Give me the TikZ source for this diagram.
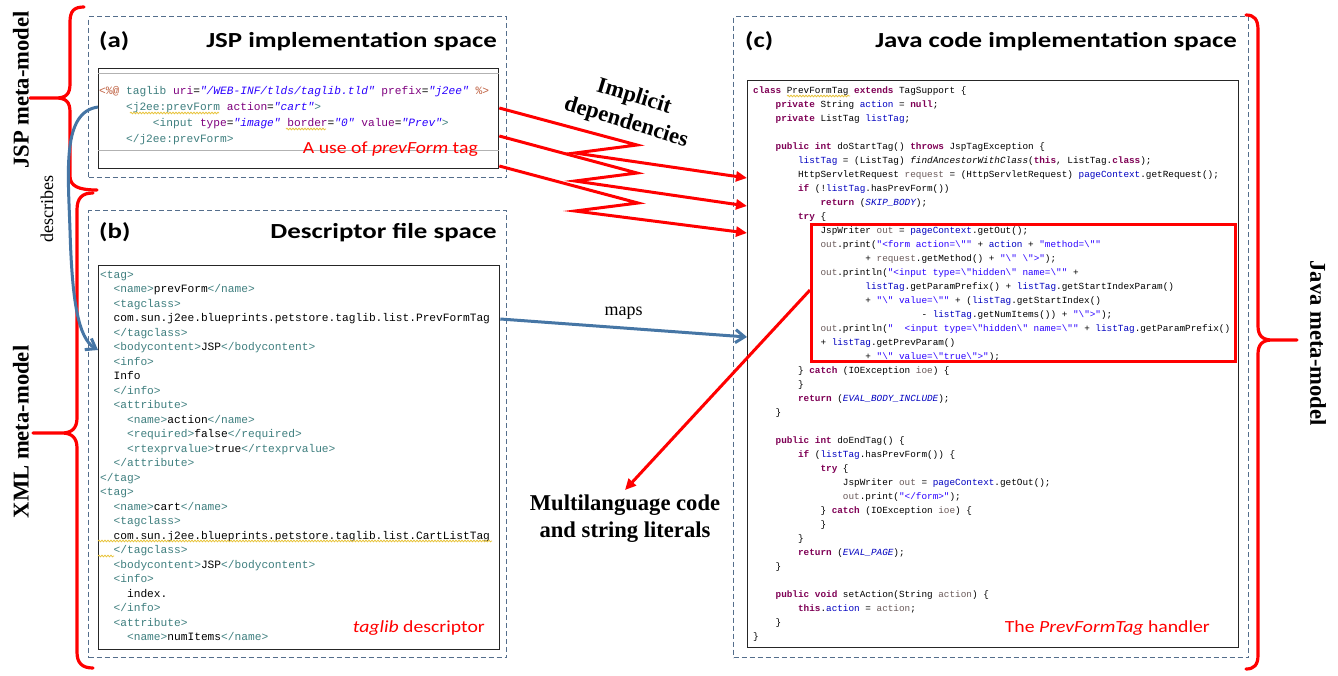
\documentclass[tikz,border=0pt]{standalone}
\usepackage{fontspec}
\setmainfont{Liberation Serif}
\setmonofont{Liberation Mono}
\newfontfamily\headfont{Carlito}[FakeStretch=1.25]
\newfontfamily\notefont{Carlito}[FakeStretch=1.16]
\usetikzlibrary{arrows.meta, positioning, decorations.pathmorphing}

\definecolor{spaceblue}{RGB}{84,110,140}
\definecolor{linkblue}{RGB}{70,118,165}
\definecolor{kwcol}{RGB}{127,0,85}
\definecolor{fieldcol}{RGB}{0,0,192}
\definecolor{strcol}{RGB}{42,0,255}
\definecolor{localcol}{RGB}{106,90,90}
\definecolor{tagcol}{RGB}{63,127,127}
\definecolor{attcol}{RGB}{127,0,127}
\definecolor{jspcol}{RGB}{191,95,63}
\definecolor{squigcol}{RGB}{232,196,60}

% code highlighting helpers
\newcommand\ind[1]{\hspace*{#1\fontcharwd\font`m}}
\newcommand\kw[1]{\textcolor{kwcol}{\bfseries #1}}
\newcommand\fd[1]{\textcolor{fieldcol}{#1}}
\newcommand\lv[1]{\textcolor{localcol}{#1}}
\newcommand\jstr[1]{\textcolor{strcol}{#1}}
\newcommand\cst[1]{\textcolor{fieldcol}{\itshape #1}}
\newcommand\xt[1]{\textcolor{tagcol}{#1}}
\newcommand\xa[1]{\textcolor{attcol}{#1}}
\newcommand\xv[1]{\textcolor{strcol}{\itshape #1}}
\newcommand\jd[1]{\textcolor{jspcol}{#1}}
\newcommand\bsl{\textbackslash}

\begin{document}
\begin{tikzpicture}[x=1pt, y=-1pt,
    spacebox/.style={draw=spaceblue, line width=1.1pt, dash pattern=on 5pt off 3pt, anchor=north west, inner sep=0},
    codebox/.style={draw=black!85, line width=1.3pt, anchor=north west, inner sep=0},
    srccode/.style={anchor=base west, inner sep=0, align=left},
    heading/.style={font=\headfont\bfseries\fontsize{21.5}{25}\selectfont, inner sep=0},
    note/.style={text=red, font=\notefont\fontsize{17}{20}\selectfont, inner sep=0, anchor=base east},
    modellabel/.style={font=\bfseries\fontsize{22.6}{27}\selectfont, inner sep=0},
    linklabel/.style={font=\fontsize{18}{21}\selectfont, inner sep=0},
    metabrace/.style={draw=red, line width=3.2pt, line cap=round, line join=round},
    dep/.style={draw=red, line width=3pt, -{Triangle[length=11pt, width=10pt]}},
    maplink/.style={draw=linkblue, line width=3pt, -{Straight Barb[length=9pt, width=13pt]}},
    squig/.style={draw=squigcol, line width=0.8pt, decorate, decoration={snake, amplitude=0.8pt, segment length=3pt}}
]
\useasboundingbox[fill=white] (0,0) rectangle (1338,675);

% ==== Spaces ====
\node[spacebox, minimum width=418pt, minimum height=161pt] (spacea) at (88,16) {};
\node[spacebox, minimum width=418pt, minimum height=447pt] (spaceb) at (88,210) {};
\node[spacebox, minimum width=515pt, minimum height=641pt] (spacec) at (733,16) {};

\node[heading, anchor=base west] (taga) at (99,47) {(a)};
\node[heading, anchor=base east] (titlea) at (497,47) {JSP implementation space};
\node[heading, anchor=base west] (tagb) at (99,238) {(b)};
\node[heading, anchor=base east] (titleb) at (497,238) {Descriptor file space};
\node[heading, anchor=base west] (tagc) at (745,47) {(c)};
\node[heading, anchor=base east] (titlec) at (1237,47) {Java code implementation space};

% ==== Code boxes ====
\node[codebox, minimum width=400pt, minimum height=100pt] (jspbox) at (98,68) {};
\node[codebox, minimum width=401pt, minimum height=384pt] (xmlbox) at (98,265) {};
\node[codebox, minimum width=491pt, minimum height=567pt] (javabox) at (747,80) {};

\draw[black!30, line width=0.8pt] ([yshift=-5pt]jspbox.north west) -- ([yshift=-5pt]jspbox.north east);
\draw[black!30, line width=0.8pt] ([yshift=-82pt]jspbox.north west) -- ([yshift=-82pt]jspbox.north east);

% JSP page (placed by its last baseline)
\node[srccode, font=\ttfamily\fontsize{11.2}{16}\selectfont] (jspsrc) at (99,142) {\jd{<\%@} \xt{taglib} \xa{uri}=\xv{"/WEB-INF/tlds/taglib.tld"} \xa{prefix}=\xv{"j2ee"} \jd{\%>}\\
\ind{4}\xt{<j2ee:prevForm} \xa{action}=\xv{"cart"}\xt{>}\\
\ind{8}\xt{<input} \xa{type}=\xv{"image"} \xa{border}=\xv{"0"} \xa{value}=\xv{"Prev"}\xt{>}\\
\ind{4}\xt{</j2ee:prevForm>}};

% tag library descriptor
\node[srccode, font=\ttfamily\fontsize{11.2}{14.5}\selectfont] (xmlsrc) at (100,640.5) {\xt{<tag>}\\
\ind{2}\xt{<name>}prevForm\xt{</name>}\\
\ind{2}\xt{<tagclass>}\\
\ind{2}com.sun.j2ee.blueprints.petstore.taglib.list.PrevFormTag\\
\ind{2}\xt{</tagclass>}\\
\ind{2}\xt{<bodycontent>}JSP\xt{</bodycontent>}\\
\ind{2}\xt{<info>}\\
\ind{2}Info\\
\ind{2}\xt{</info>}\\
\ind{2}\xt{<attribute>}\\
\ind{4}\xt{<name>}action\xt{</name>}\\
\ind{4}\xt{<required>}false\xt{</required>}\\
\ind{4}\xt{<rtexprvalue>}true\xt{</rtexprvalue>}\\
\ind{2}\xt{</attribute>}\\
\xt{</tag>}\\
\xt{<tag>}\\
\ind{2}\xt{<name>}cart\xt{</name>}\\
\ind{2}\xt{<tagclass>}\\
\ind{2}com.sun.j2ee.blueprints.petstore.taglib.list.CartListTag\\
\ind{2}\xt{</tagclass>}\\
\ind{2}\xt{<bodycontent>}JSP\xt{</bodycontent>}\\
\ind{2}\xt{<info>}\\
\ind{4}index.\\
\ind{2}\xt{</info>}\\
\ind{2}\xt{<attribute>}\\
\ind{4}\xt{<name>}numItems\xt{</name>}};

% tag handler
\node[srccode, font=\ttfamily\fontsize{9.35}{14}\selectfont] (javasrc) at (753,639.5) {\kw{class} PrevFormTag \kw{extends} TagSupport \{\\
\ind{4}\kw{private} String \fd{action} = \kw{null};\\
\ind{4}\kw{private} ListTag \fd{listTag};\\
\mbox{}\\
\ind{4}\kw{public} \kw{int} doStartTag() \kw{throws} JspTagException \{\\
\ind{8}\fd{listTag} = (ListTag) \textit{findAncestorWithClass}(\kw{this}, ListTag.\kw{class});\\
\ind{8}HttpServletRequest \lv{request} = (HttpServletRequest) \fd{pageContext}.getRequest();\\
\ind{8}\kw{if} (!\fd{listTag}.hasPrevForm())\\
\ind{12}\kw{return} (\cst{SKIP\_BODY});\\
\ind{8}\kw{try} \{\\
\ind{12}JspWriter \lv{out} = \fd{pageContext}.getOut();\\
\ind{12}\lv{out}.print(\jstr{"<form action=\bsl""} + \fd{action} + \jstr{"method=\bsl""}\\
\ind{20}+ \lv{request}.getMethod() + \jstr{"\bsl" \bsl">"});\\
\ind{12}\lv{out}.println(\jstr{"<input type=\bsl"hidden\bsl" name=\bsl""} +\\
\ind{20}\fd{listTag}.getParamPrefix() + \fd{listTag}.getStartIndexParam()\\
\ind{20}+ \jstr{"\bsl" value=\bsl""} + (\fd{listTag}.getStartIndex()\\
\ind{30}- \fd{listTag}.getNumItems()) + \jstr{"\bsl">"});\\
\ind{12}\lv{out}.println(\jstr{"~~<input type=\bsl"hidden\bsl" name=\bsl""} + \fd{listTag}.getParamPrefix()\\
\ind{12}+ \fd{listTag}.getPrevParam()\\
\ind{20}+ \jstr{"\bsl" value=\bsl"true\bsl">"});\\
\ind{8}\} \kw{catch} (IOException \lv{ioe}) \{\\
\ind{8}\}\\
\ind{8}\kw{return} (\cst{EVAL\_BODY\_INCLUDE});\\
\ind{4}\}\\
\mbox{}\\
\ind{4}\kw{public} \kw{int} doEndTag() \{\\
\ind{8}\kw{if} (\fd{listTag}.hasPrevForm()) \{\\
\ind{12}\kw{try} \{\\
\ind{16}JspWriter \lv{out} = \fd{pageContext}.getOut();\\
\ind{16}\lv{out}.print(\jstr{"</form>"});\\
\ind{12}\} \kw{catch} (IOException \lv{ioe}) \{\\
\ind{12}\}\\
\ind{8}\}\\
\ind{8}\kw{return} (\cst{EVAL\_PAGE});\\
\ind{4}\}\\
\mbox{}\\
\ind{4}\kw{public} \kw{void} setAction(String \lv{action}) \{\\
\ind{8}\kw{this}.\fd{action} = \lv{action};\\
\ind{4}\}\\
\}};

% spell-check underlines
\draw[squig] (130,113) -- (219,113);
\draw[squig] (286,129) -- (326,129);
\draw[squig] (98,541) -- (492,541);
\draw[squig] (98,556) -- (114,556);
\draw[squig] (787,96) -- (850,96);

% ==== Annotations ====
\node[note] (jspnote) at (478,153) {A use of \textit{prevForm} tag};
\node[note] (xmlnote) at (485,632) {\textit{taglib} descriptor};
\node[note] (javanote) at (1210,632) {The \textit{PrevFormTag} handler};

\node[draw=red, line width=3pt, anchor=north west, inner sep=0, minimum width=424pt, minimum height=137pt] (hilite) at (810,223) {};

\node[modellabel, rotate=90] (jspmodel) at (21,90) {JSP meta-model};
\node[modellabel, rotate=90] (xmlmodel) at (21,432) {XML meta-model};
\node[modellabel, rotate=-90] (javamodel) at (1318,343) {Java meta-model};
\node[modellabel, rotate=-17, align=center] (implicit) at (630,110) {Implicit\\dependencies};
\node[modellabel, align=center, anchor=north, inner sep=5pt] (multi) at (625,490) {Multilanguage code\\and string literals};
\node[linklabel, rotate=90] (describes) at (47,209) {describes};

% ==== Braces ====
\draw[metabrace] (84,7) .. controls (74,7) and (70,11) .. (70,22) -- (70,84) .. controls (70,94) and (66,98) .. (56,98) -- (30,98)
  (56,98) .. controls (66,98) and (70,102) .. (70,112) -- (70,176) .. controls (70,186) and (78,190) .. (97,190);
\draw[metabrace] (93,193) .. controls (82,193) and (77,198) .. (77,210) -- (77,418) .. controls (77,428) and (72,433) .. (62,433) -- (33,433)
  (62,433) .. controls (72,433) and (77,438) .. (77,448) -- (77,652) .. controls (77,663) and (82,668) .. (93,668);
\draw[metabrace] (1246,15) .. controls (1254,15) and (1258,19) .. (1258,30) -- (1258,326) .. controls (1258,335) and (1262,340) .. (1272,340) -- (1297,340)
  (1272,340) .. controls (1262,340) and (1258,345) .. (1258,354) -- (1258,655) .. controls (1258,665) and (1254,669) .. (1246,669);

% ==== Relations ====
\draw[dep] ([yshift=-40pt]jspbox.north east) -- (637,145) -- (575,153) -- ([yshift=-98pt]javabox.north west);
\draw[dep] ([yshift=-68pt]jspbox.north east) -- (637,173) -- (575,181) -- ([yshift=-126pt]javabox.north west);
\draw[dep] ([yshift=-98pt]jspbox.north east) -- (638,203) -- (575,211) -- ([yshift=-153pt]javabox.north west);
\draw[dep] ([yshift=-67pt]hilite.north west) -- (multi.north);
\draw[maplink] ([yshift=-54pt]xmlbox.north east) -- ([yshift=-257pt]javabox.north west) node[midway, above=7pt, linklabel]{maps};
\draw[maplink] ([yshift=-39pt]jspbox.north west) .. controls (62,112) and (68,170) .. (70,230) .. controls (72,300) and (78,338) .. ([yshift=-85pt]xmlbox.north west);

\end{tikzpicture}
\end{document}
